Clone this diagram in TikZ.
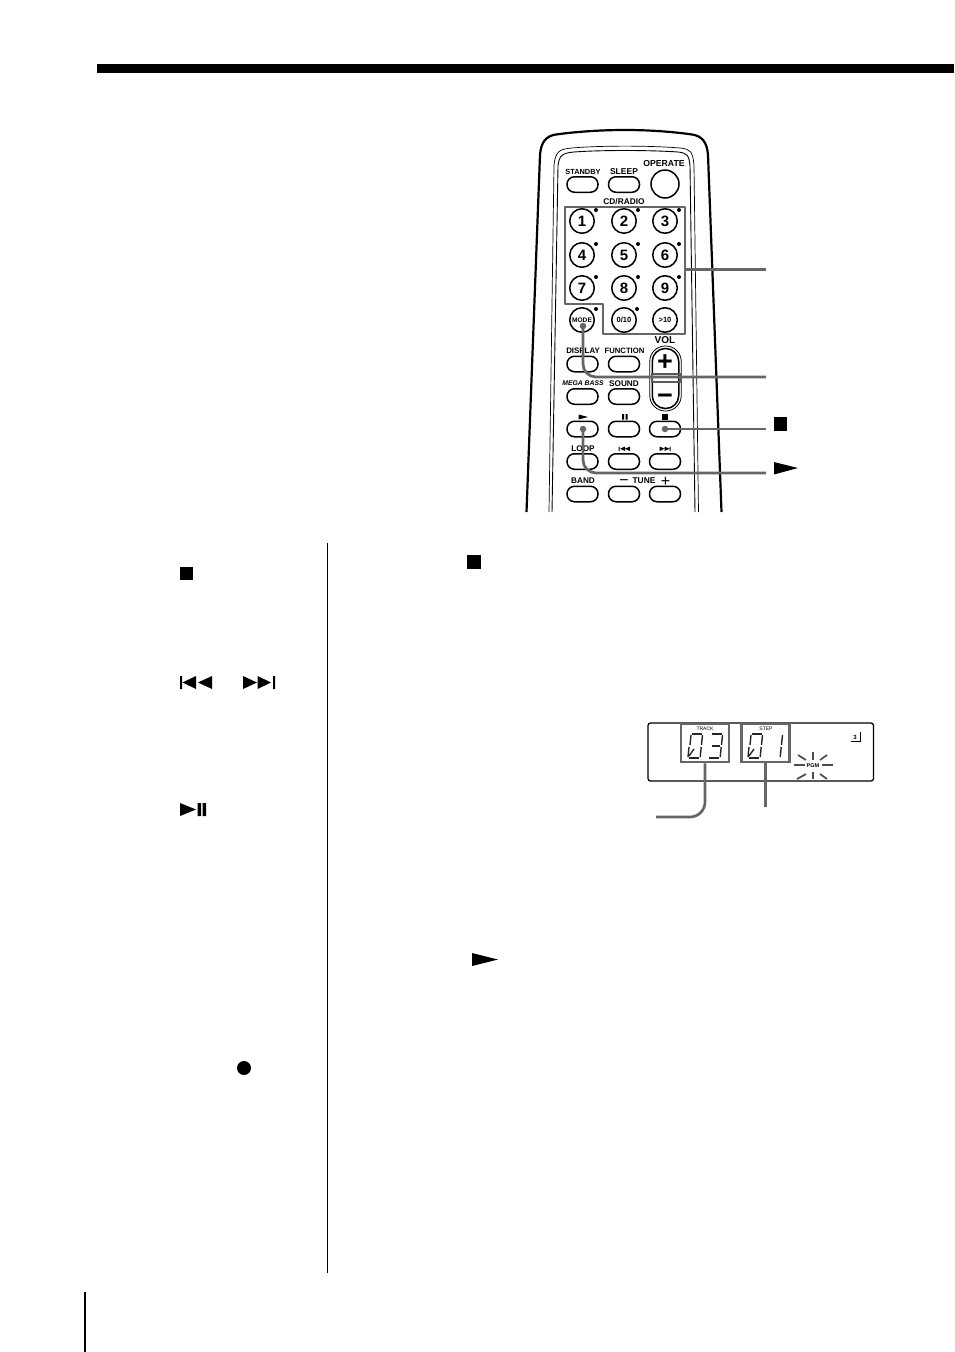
\documentclass[tikz,border=0pt]{standalone}
\usepackage{fontspec}
\usetikzlibrary{calc}
\setmainfont{Liberation Sans}
\definecolor{lead}{HTML}{666666}
\newcommand\sgA{\draw[segline] (4,0)--(14,0);}
\newcommand\sgB{\draw[segline] (14.5,1)--(13.5,11);}
\newcommand\sgC{\draw[segline] (13.2,13)--(12.2,23);}
\newcommand\sgD{\draw[segline] (1,24)--(11,24);}
\newcommand\sgE{\draw[segline] (1,13)--(0,23);}
\newcommand\sgF{\draw[segline] (3,1)--(2,11);}
\newcommand\sgG{\draw[segline] (4,12)--(12,12);}
\newcommand\sgH{\draw[segline] (1,22)--(6,15);}
\newcommand\fs[1]{\fontsize{#1}{#1}\selectfont}
\begin{document}
\begin{tikzpicture}[x=1pt,y=-1pt,
  pill/.style={draw=black,line width=1.5pt,rounded corners=7.5pt,minimum width=31pt,minimum height=15.5pt,inner sep=0pt,fill=white},
  numkey/.style={draw=black,line width=1.5pt,circle,minimum size=24.5pt,inner sep=0pt,font=\bfseries\fs{15}},
  smallkey/.style={draw=black,line width=1.5pt,circle,minimum size=24.5pt,inner sep=0pt,font=\bfseries\fs{7.5}},
  lab/.style={inner sep=0pt,font=\fs{8}\bfseries},
  tiny/.style={inner sep=0pt,font=\fs{5}},
  led/.style={circle,fill=black,inner sep=0pt,minimum size=4pt},
  leader/.style={draw=lead,line width=2.7pt},
  dotg/.style={circle,fill=lead,inner sep=0pt,minimum size=6.5pt},
  segline/.style={draw=black!85,line width=1.4pt},
  ray/.style={draw=black!70,line width=1.7pt},
  icon/.style={fill=black,draw=none}]
\useasboundingbox (0,0) rectangle (954,1352);
\fill[white] (0,0) rectangle (954,1352);
% page furniture
\fill[black] (97,64) rectangle (954,73);
\draw[line width=1.5pt] (327.5,543) -- (327.5,1273);
\draw[line width=1.1pt] (85,1292) -- (85,1352);
% body of the remote
\draw[line width=2.2pt] (526.5,512) -- (540,155) .. controls (541,142) and (546,136) .. (556,134.5)
  .. controls (600,128.5) and (650,128.5) .. (692,134.5) .. controls (702,136) and (707,142) .. (708,155) -- (721.5,512);
\draw[line width=.7pt] (549,512) -- (554,166) .. controls (555,151) and (560,149) .. (572,148)
  .. controls (600,145.5) and (650,145.5) .. (680,148) .. controls (690,149) and (693,151) .. (694,166) -- (698.5,512);
\draw[line width=.9pt] (552,512) -- (558,166) .. controls (559,155) and (563,153) .. (574,152)
  .. controls (600,150) and (650,150) .. (678,152) .. controls (687,153) and (689,155) .. (690,166) -- (695,512);
% buttons
\node[pill] (standby) at (582.5,184.5) {};
\node[pill] (sleep) at (624,184.5) {};
\node[draw,line width=1.5pt,circle,minimum size=28pt,inner sep=0pt] (operate) at (665,184) {};
\node[lab] (lstandby) at (583,172) {\fs{7.4}STANDBY};
\node[lab] (lsleep) at (624,172) {\fs{8.5}SLEEP};
\node[lab] (loperate) at (664,163.5) {\fs{8.7}OPERATE};
\node[lab] (lcdradio) at (624,202) {\fs{8.3}CD/RADIO};
\foreach \n/\lbl/\cx/\cy in {a1/1/582/221,a2/2/624/221,a3/3/665/221,a4/4/582/255,a5/5/624/255,a6/6/665/255,a7/7/582/288,a8/8/624/288,a9/9/665/288}{
  \node[numkey] (\n) at (\cx,\cy) {\lbl};
  \node[led] (led\n) at ($(\cx,\cy)+(14,-11)$) {};
}
\node[smallkey] (mode) at (582,320) {\fs{6.6}MODE};
\node[smallkey] (k010) at (624,320) {0/10};
\node[smallkey] (kgt) at (665,320) {>10};
\node[led] (ledm) at (596,309) {};
\node[led] (ledz) at (637,309) {};
\node[pill] (display) at (582.5,364) {};
\node[pill] (function) at (624,364) {};
\node[lab] (ldisplay) at (583,351) {\fs{7.9}DISPLAY};
\node[lab] (lfunction) at (624.5,351) {\fs{7.7}FUNCTION};
\node[lab] (lvol) at (665,340) {\fs{10}VOL};
\node[draw,line width=.8pt,rounded corners=15.5pt,minimum width=31.5pt,minimum height=65pt,inner sep=0pt] (volout) at (665.5,378.5) {};
\node[draw,line width=1.5pt,rounded corners=13pt,minimum width=26.5pt,minimum height=60pt,inner sep=0pt] (volin) at (665.5,378.5) {};
\node[inner sep=0pt,font=\bfseries\fs{27}] (vplus) at (665,362.5) {+};
\node[inner sep=0pt,font=\bfseries\fs{27}] (vminus) at (665,399) {−};
\draw[line width=1.8pt,draw=black!65] (652,374) rectangle (680,382);
\node[pill] (mega) at (582.5,396.5) {};
\node[pill] (sound) at (624,396.5) {};
\node[lab] (lmega) at (583,383.5) {\fs{6.8}\itshape MEGA BASS};
\node[lab] (lsound) at (624,383.5) {\fs{8.2}SOUND};
\node[pill] (play) at (582.5,429) {};
\node[pill] (pause) at (624,429) {};
\node[pill] (stop) at (665,429) {};
\node[pill] (loop) at (582.5,461.5) {};
\node[pill] (prev) at (624,461.5) {};
\node[pill] (next) at (665,461.5) {};
\node[lab] (lloop) at (583,449) {\fs{8.2}LOOP};
\node[pill] (band) at (582.5,494) {};
\node[pill] (tunem) at (624,494) {};
\node[pill] (tunep) at (665,494) {};
\node[lab] (lband) at (583,481) {\fs{8.2}BAND};
\node[lab] (ltune) at (644,481) {\fs{8.4}TUNE};
\node[inner sep=0pt,font=\fs{16}] (tm) at (624,482.5) {−};
\node[inner sep=0pt,font=\fs{16}] (tp) at (665.5,481.5) {+};
% small key glyphs
\fill[icon] (578.5,414.5) -- (588,417) -- (578.5,419.5) -- cycle;
\fill[icon] (622,414) rectangle (624,419.5) (625.5,414) rectangle (627.5,419.5);
\fill[icon] (662,414) rectangle (668,419.5);
\fill[icon] (618.5,446.5) rectangle (619.5,451) (625,446.5) -- (620,448.75) -- (625,451) -- cycle (630,446.5) -- (625,448.75) -- (630,451) -- cycle;
\fill[icon] (659.5,446.5) -- (664.5,448.75) -- (659.5,451) -- cycle (664.5,446.5) -- (669.5,448.75) -- (664.5,451) -- cycle (669.5,446.5) rectangle (670.5,451);
% grey grouping and leaders
\draw[leader,line join=round] (565,207) -- (685,207) -- (685,334) -- (603,334) -- (603,304) -- (565,304) -- cycle;
\coordinate (numside) at (685,269.5);
\coordinate (numend) at (766,269.5);
\draw[leader] (numside) -- (numend);
\node[dotg] (dmode) at (583,326) {};
\coordinate (modeend) at (766,377);
\draw[leader,rounded corners=13pt] (dmode.center) -- (583,377) -- (modeend);
\node[dotg] (dstop) at (665,429) {};
\coordinate (stopend) at (766,429);
\draw[leader] (dstop.center) -- (stopend);
\node[dotg] (dplay) at (583,429) {};
\coordinate (playend) at (766,473);
\draw[leader,rounded corners=13pt] (dplay.center) -- (583,473) -- (playend);
% keys named at leader ends
\fill[icon] (774,417) rectangle (787,430.5);
\fill[icon] (774,462) -- (798,468) -- (774,474.5) -- cycle;
% margin icons
\fill[icon] (180,567) rectangle (193,580);
\fill[icon] (180,676) rectangle (182,689) (196,676) -- (182.5,682.5) -- (196,689) -- cycle (212,676) -- (198,682.5) -- (212,689) -- cycle;
\fill[icon] (243,676) -- (257,682.5) -- (243,689) -- cycle (257.5,676) -- (271,682.5) -- (257.5,689) -- cycle (273,676) rectangle (275,689);
\fill[icon] (180,803) -- (196,809.5) -- (180,816) -- cycle (197.5,803) rectangle (201,816) (202.5,803) rectangle (206,816);
\fill[icon] (244,1068) circle (7);
\fill[icon] (467,555) rectangle (481,569);
\fill[icon] (472,953) -- (498,959.5) -- (472,966) -- cycle;
% display panel
\draw[line width=1.3pt,rounded corners=2.5pt] (648,723) rectangle (873.5,781);
\node[tiny] (ltrack) at (705,728.5) {TRACK};
\node[tiny] (lstep) at (766,728.5) {STEP};
\node[tiny,font=\bfseries\fs{5.5}] (lpgm) at (813,766) {PGM};
\node[tiny,font=\bfseries\fs{6}] (lthree) at (855,737) {3};
\draw[line width=.8pt] (851,741) -- (860,741) -- (860,732);
\begin{scope}[shift={(688,734)}]\sgA\sgB\sgC\sgD\sgE\sgF\sgH\end{scope}
\begin{scope}[shift={(708,734)}]\sgA\sgB\sgC\sgD\sgG\end{scope}
\begin{scope}[shift={(748,734)}]\sgA\sgB\sgC\sgD\sgE\sgF\sgH\end{scope}
\begin{scope}[shift={(768,734)}]\sgB\sgC\end{scope}
\foreach \a/\b/\c/\d in {794/765/805/765,822/765/833/765,813/752/813/760,813/772/813/779,797/779/806/774,820/774/827/779,798/755/806/760,827/755/820/760}
  \draw[ray] (\a,\b) -- (\c,\d);
\node[draw=lead,line width=2.7pt,minimum width=48pt,minimum height=38pt,inner sep=0pt] (trackbox) at (705,743) {};
\node[draw=lead,line width=2.7pt,minimum width=48.5pt,minimum height=38pt,inner sep=0pt] (stepbox) at (765.5,743) {};
\coordinate (trackend) at (656,817);
\coordinate (stepend) at (765.5,807);
\draw[leader,rounded corners=15pt] (trackbox.south) -- (705,817) -- (trackend);
\draw[leader] (stepbox.south) -- (stepend);
\end{tikzpicture}
\end{document}
